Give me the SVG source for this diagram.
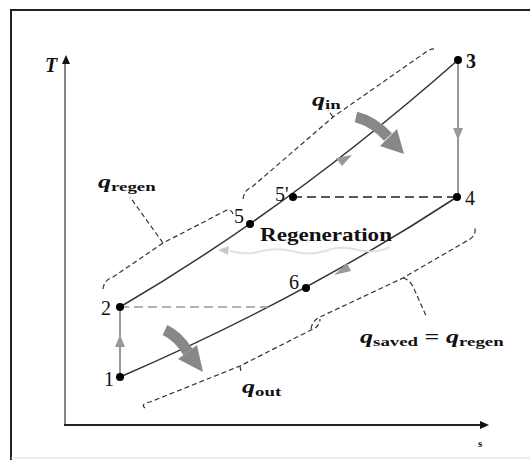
<svg xmlns="http://www.w3.org/2000/svg" width="530" height="460" viewBox="0 0 530 460">
<defs>
<style>
.num{font-family:"Liberation Serif","Times New Roman",serif;font-size:20px;fill:#111}
.q{font-family:"Liberation Serif","Times New Roman",serif;font-weight:bold;font-style:italic;font-size:18px;fill:#111}
.sub{font-family:"Liberation Serif","Times New Roman",serif;font-weight:bold;font-style:normal;font-size:13px;fill:#111}
.curve{fill:none;stroke:#333;stroke-width:1.5}
.proc{fill:none;stroke:#777;stroke-width:1.5}
.brace{fill:none;stroke:#333;stroke-width:1.2;stroke-dasharray:5 3}
.dot{fill:#000}
.garr{fill:#999}
.big{fill:none;stroke:#888;stroke-width:11}
</style>
</defs>
<rect width="530" height="460" fill="#fff"/>
<g id="frame">
<path d="M11,460 V10 H530" fill="none" stroke="#222" stroke-width="2"/>
<path d="M11,458 H530" fill="none" stroke="#ddd" stroke-width="1"/>
</g>
<g id="axes">
<path d="M65,425 V62" fill="none" stroke="#444" stroke-width="1.3"/>
<polygon points="66,55 62,64 70,64" fill="#111"/>
<path d="M64,425 H481" fill="none" stroke="#222" stroke-width="2"/>
<polygon points="489,425 480,421 480,429" fill="#111"/>
<text x="45" y="72" class="q" style="font-size:20px">T</text>
<text x="478" y="447" class="sub" style="font-size:11px">s</text>
</g>
<g id="connectors">
<path id="upper" class="curve" d="M120,307 Q291,207 458,60"/>
<path id="lower" class="curve" d="M120,377 Q303,298 457,197"/>
<path class="proc" d="M120,377 V307"/>
<path class="proc" d="M458,60 V197"/>
<polygon class="garr" points="120,335 115,347 125,347"/>
<polygon class="garr" points="458,140 453,128 463,128"/>
<path d="M120,307 H268" fill="none" stroke="#999" stroke-width="1.3" stroke-dasharray="9 5"/>
<path d="M293,197 H457" fill="none" stroke="#222" stroke-width="1.5" stroke-dasharray="9 5"/>
<polygon class="garr" points="352,155 336,158 342,166"/>
<polygon class="garr" points="334,275 347,263 351,271"/>
<path d="M390,247 Q375,254 358,250 Q340,245 325,251 Q310,256 292,251 Q275,247 258,252 Q245,255 230,251" fill="none" stroke="#e2e2e2" stroke-width="2"/>
<polygon points="218,250 229,246 228,255" fill="#c8c8c8"/>
<path class="big" d="M356,117 Q373,121 388,137"/>
<polygon points="404,154 380,146 397,129" fill="#888"/>
<path class="big" d="M165,330 Q178,336 188,352"/>
<polygon points="203,372 178,359 197,345" fill="#888"/>
<path class="brace" d="M103,289 Q104,280 113,277 L163,243 L225,211 Q231,208 233,214"/>
<path class="brace" d="M163,243 L130,197"/>
<path class="brace" d="M243,199 Q244,190 252,187 L333,117 L426,52 Q431,48 437,49"/>
<path class="brace" d="M333,117 L328,110"/>
<path class="brace" d="M145,408 Q140,404 150,402 L240,366 L315,328 Q320,325 320,319"/>
<path class="brace" d="M240,366 L241,372"/>
<path class="brace" d="M311,329 Q312,321 320,317 L403,278 L470,239 Q476,235 475,228"/>
<path class="brace" d="M403,278 Q411,280 415,291 L427,318"/>
</g>
<g id="n1"><circle class="dot" cx="120" cy="377" r="4"/><text x="104" y="386" class="num">1</text></g>
<g id="n2"><circle class="dot" cx="120" cy="307" r="4"/><text x="101" y="315" class="num">2</text></g>
<g id="n3"><circle class="dot" cx="458" cy="60" r="4"/><text x="466" y="68" class="num" style="font-weight:bold;font-size:20px">3</text></g>
<g id="n4"><circle class="dot" cx="457" cy="197" r="4"/><text x="465" y="205" class="num">4</text></g>
<g id="n5"><circle class="dot" cx="250" cy="224" r="4"/><text x="234" y="223" class="num">5</text></g>
<g id="n5p"><circle class="dot" cx="293" cy="197" r="4"/><text x="275" y="201" class="num">5'</text></g>
<g id="n6"><circle class="dot" cx="306" cy="288" r="4"/><text x="289" y="289" class="num">6</text></g>
<g id="labels">
<text x="260" y="241" class="num" style="font-weight:bold;font-size:19px" textLength="132" lengthAdjust="spacingAndGlyphs">Regeneration</text>
<text transform="translate(312,106) scale(1.45,1)" class="q">q<tspan class="sub" dy="3">in</tspan></text>
<text transform="translate(98,188) scale(1.45,1)" class="q">q<tspan class="sub" dy="3">regen</tspan></text>
<text transform="translate(242,393) scale(1.45,1)" class="q">q<tspan class="sub" dy="3">out</tspan></text>
<text transform="translate(360,343) scale(1.45,1)" class="q">q<tspan class="sub" dy="3">saved</tspan><tspan dy="-3" style="font-style:normal"> = </tspan>q<tspan class="sub" dy="3">regen</tspan></text>
</g>
</svg>
